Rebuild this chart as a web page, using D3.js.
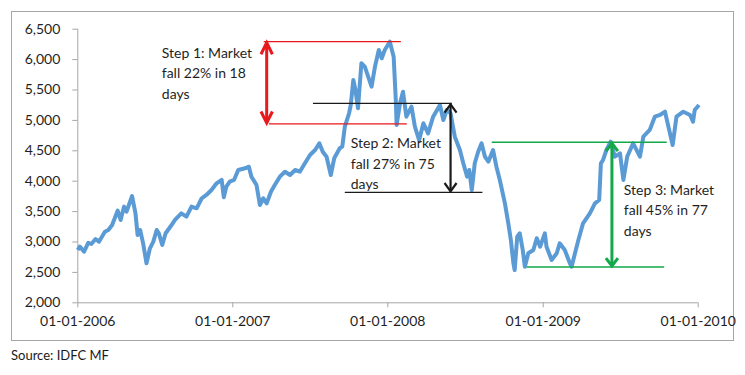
<!DOCTYPE html>
<html>
<head>
<meta charset="utf-8">
<script src="https://cdn.jsdelivr.net/npm/d3@7"></script>
<style>
  body { margin: 0; background: #fff; }
  svg { display: block; font-family: Lato, "Open Sans", sans-serif; }
</style>
</head>
<body>
<div class="container"></div>
<script>
const width = 745;
const height = 375;

// index level
const dates = [
  '2006-01-02', '2006-01-07', '2006-01-17', '2006-01-27', '2006-02-03', '2006-02-13', '2006-02-21',
  '2006-03-07', '2006-03-15', '2006-03-24', '2006-04-06', '2006-04-13', '2006-04-21', '2006-04-27',
  '2006-05-10', '2006-05-18', '2006-05-23', '2006-05-29', '2006-06-05', '2006-06-13', '2006-06-21',
  '2006-06-29', '2006-07-07', '2006-07-12', '2006-07-20', '2006-07-28', '2006-08-11', '2006-08-19',
  '2006-09-03', '2006-09-15', '2006-09-27', '2006-10-09', '2006-10-21', '2006-11-01', '2006-11-13',
  '2006-11-25', '2006-12-07', '2006-12-12', '2006-12-18', '2006-12-26', '2007-01-05', '2007-01-15',
  '2007-01-31', '2007-02-09', '2007-02-15', '2007-02-27', '2007-03-07', '2007-03-15', '2007-03-23',
  '2007-04-02', '2007-04-11', '2007-04-23', '2007-05-05', '2007-05-17', '2007-05-29', '2007-06-09',
  '2007-06-21', '2007-07-03', '2007-07-15', '2007-07-25', '2007-08-02', '2007-08-11', '2007-08-21',
  '2007-08-29', '2007-09-11', '2007-09-17', '2007-09-23', '2007-10-03', '2007-10-07', '2007-10-13',
  '2007-10-18', '2007-10-24', '2007-11-01', '2007-11-09', '2007-11-17', '2007-11-25', '2007-12-03',
  '2007-12-12', '2007-12-19', '2007-12-26', '2008-01-07', '2008-01-16', '2008-01-21', '2008-01-23',
  '2008-01-31', '2008-02-07', '2008-02-15', '2008-02-27', '2008-03-06', '2008-03-16', '2008-03-26',
  '2008-04-06', '2008-04-18', '2008-05-04', '2008-05-12', '2008-05-20', '2008-05-29', '2008-06-08',
  '2008-06-20', '2008-06-28', '2008-07-07', '2008-07-12', '2008-07-18', '2008-07-25', '2008-08-02',
  '2008-08-10', '2008-08-18', '2008-08-26', '2008-09-06', '2008-09-14', '2008-09-22', '2008-10-04',
  '2008-10-12', '2008-10-18', '2008-10-24', '2008-10-27', '2008-11-02', '2008-11-08', '2008-11-15',
  '2008-11-20', '2008-11-28', '2008-12-10', '2008-12-18', '2008-12-26', '2009-01-06', '2009-01-10',
  '2009-01-22', '2009-02-03', '2009-02-10', '2009-02-22', '2009-03-06', '2009-03-10', '2009-03-18',
  '2009-03-26', '2009-04-06', '2009-04-22', '2009-05-04', '2009-05-14', '2009-05-18', '2009-05-23',
  '2009-05-31', '2009-06-10', '2009-06-20', '2009-07-02', '2009-07-10', '2009-07-19', '2009-08-02',
  '2009-08-18', '2009-08-26', '2009-09-10', '2009-09-22', '2009-10-04', '2009-10-16', '2009-10-24',
  '2009-11-03', '2009-11-12', '2009-11-28', '2009-12-14', '2009-12-21', '2009-12-25', '2010-01-04'
];
const values = [
  2860, 2915, 2833, 2980, 2959, 3041, 2997,
  3161, 3189, 3271, 3507, 3354, 3573, 3490,
  3748, 3464, 3107, 3189, 2970, 2641, 2888,
  2997, 3189, 3135, 2942, 3135, 3271, 3354,
  3464, 3408, 3573, 3546, 3711, 3765, 3847,
  3957, 4012, 3727, 3902, 3984, 4012, 4176,
  4204, 4230, 4066, 3929, 3600, 3711, 3628,
  3819, 3929, 4066, 4148, 4094, 4176, 4148,
  4286, 4423, 4505, 4615, 4477, 4395, 4094,
  4368, 4533, 4560, 4889, 5109, 5245, 5656,
  5492, 5191, 5931, 5876, 5711, 5546, 5876,
  6150, 6013, 6150, 6286, 6040, 5327, 4916,
  5273, 5464, 5053, 5217, 4889, 4669, 4944,
  4779, 5053, 5245, 4998, 5163, 5109, 4724,
  4505, 4286, 4066, 4176, 3847, 4286, 4477,
  4615, 4395, 4313, 4505, 4230, 4012, 3628,
  3299, 3025, 2641, 2531, 3079, 3135, 2860,
  2586, 2806, 2860, 3053, 2915, 3135, 2915,
  2696, 2806, 2970, 2860, 2641, 2586, 2806,
  3025, 3299, 3464, 3628, 3683, 4286, 4340,
  4505, 4642, 4395, 4450, 4012, 4395, 4615,
  4395, 4724, 4834, 5053, 5081, 5135, 4889,
  4587, 5053, 5135, 5081, 4970, 5163, 5245
];

const yTicks = [2000, 2500, 3000, 3500, 4000, 4500, 5000, 5500, 6000, 6500];
const xTicks = ['2006-01-01', '2007-01-01', '2008-01-01', '2009-01-01', '2010-01-01'];

// the three falls: where the guide lines sit and what the note says
const stepTop = [6286, 5273, 4632];
const stepBottom = [4933, 3809, 2581];
const topFrom = ['2007-03-16', '2007-07-10', '2008-09-03'];
const topTo = ['2008-02-02', '2008-06-01', '2009-10-20'];
const bottomFrom = ['2007-03-28', '2007-09-23', '2008-11-24'];
const bottomTo = ['2008-02-16', '2008-08-12', '2009-10-14'];
const arrowAt = ['2007-03-23', '2008-05-29', '2009-06-13'];
const noteAt = ['2006-07-19', '2007-10-07', '2009-07-11'];
const noteTop = [6100, 4615, 3847];
const notes = [
  ['Step 1: Market', 'fall 22% in 18', 'days'],
  ['Step 2: Market', 'fall 27% in 75', 'days'],
  ['Step 3: Market', 'fall 45% in 77', 'days'],
];
const stepColors = ['#e8191d', '#1a1a1a', '#13a84a'];

const parse = d3.timeParse('%Y-%m-%d');
const series = dates.map((d, i) => ({ date: parse(d), value: values[i] }));

const x = d3.scaleTime()
  .domain([parse('2006-01-01'), parse('2010-01-01')])
  .range([77.3, 697.7]);

const y = d3.scaleLinear()
  .domain([2000, 6500])
  .range([302.3, 28.7]);

const svg = d3.select('.container')
  .append('svg')
  .attr('width', width)
  .attr('height', height);

svg.append('rect')
  .attr('x', 11.5)
  .attr('y', 11.5)
  .attr('width', 722)
  .attr('height', 329)
  .attr('fill', '#fff')
  .attr('stroke', '#a6a6a6');

const yAxis = svg.append('g')
  .attr('transform', 'translate(77.3,0)')
  .call(d3.axisLeft(y).tickValues(yTicks).tickSize(5).tickPadding(12).tickFormat(d3.format(',')));

const xAxis = svg.append('g')
  .attr('transform', 'translate(0,302.3)')
  .call(d3.axisBottom(x).tickValues(xTicks.map(parse)).tickSize(5).tickPadding(9)
    .tickFormat(d3.timeFormat('%d-%m-%Y')));

[yAxis, xAxis].forEach(g => {
  g.select('.domain').attr('stroke', '#a6a6a6');
  g.selectAll('.tick line').attr('stroke', '#a6a6a6');
  g.selectAll('.tick text')
    .attr('fill', '#1f1f1f')
    .style('font-family', 'Lato, sans-serif')
    .style('font-size', '14px');
});
xAxis.selectAll('.domain').attr('d', `M${x.range()[0]},0.5H${x.range()[1]}`);
yAxis.selectAll('.domain').attr('d', `M0.5,${y.range()[0]}V${y.range()[1]}`);

const line = d3.line()
  .x(d => x(d.date))
  .y(d => y(d.value));

svg.append('path')
  .datum(series)
  .attr('d', line)
  .attr('fill', 'none')
  .attr('stroke', '#5b9bd5')
  .attr('stroke-width', 4)
  .attr('stroke-linejoin', 'round');

const headW = [5.7, 6, 6];
const headL = [11.5, 8.3, 7.8];
const shaftW = [3, 2.2, 3];

stepTop.forEach((top, i) => {
  const g = svg.append('g').attr('stroke', stepColors[i]).attr('fill', 'none');
  g.append('line')
    .attr('x1', x(parse(topFrom[i]))).attr('x2', x(parse(topTo[i])))
    .attr('y1', y(top)).attr('y2', y(top))
    .attr('stroke-width', 1.3);
  g.append('line')
    .attr('x1', x(parse(bottomFrom[i]))).attr('x2', x(parse(bottomTo[i])))
    .attr('y1', y(stepBottom[i])).attr('y2', y(stepBottom[i]))
    .attr('stroke-width', 1.3);

  const ax = x(parse(arrowAt[i]));
  const y0 = y(top) + 1;
  const y1 = y(stepBottom[i]) - 1;
  g.append('line')
    .attr('x1', ax).attr('x2', ax)
    .attr('y1', y0).attr('y2', y1)
    .attr('stroke-width', shaftW[i]);
  g.append('path')
    .attr('d', `M${ax - headW[i]},${y0 + headL[i]}L${ax},${y0}L${ax + headW[i]},${y0 + headL[i]}`)
    .attr('stroke-width', shaftW[i]);
  g.append('path')
    .attr('d', `M${ax - headW[i]},${y1 - headL[i]}L${ax},${y1}L${ax + headW[i]},${y1 - headL[i]}`)
    .attr('stroke-width', shaftW[i]);

  svg.append('text')
    .attr('x', x(parse(noteAt[i])))
    .attr('y', y(noteTop[i]))
    .attr('fill', '#1f1f1f')
    .style('font-size', '14px')
    .selectAll('tspan')
    .data(notes[i])
    .join('tspan')
    .attr('x', x(parse(noteAt[i])))
    .attr('dy', (_, j) => (j === 0 ? '0.35em' : '20.5'))
    .text(d => d);
});

svg.append('text')
  .attr('x', 11)
  .attr('y', 359.5)
  .attr('fill', '#1a1a1a')
  .style('font-size', '13px')
  .text('Source: IDFC MF');
</script>
</body>
</html>
